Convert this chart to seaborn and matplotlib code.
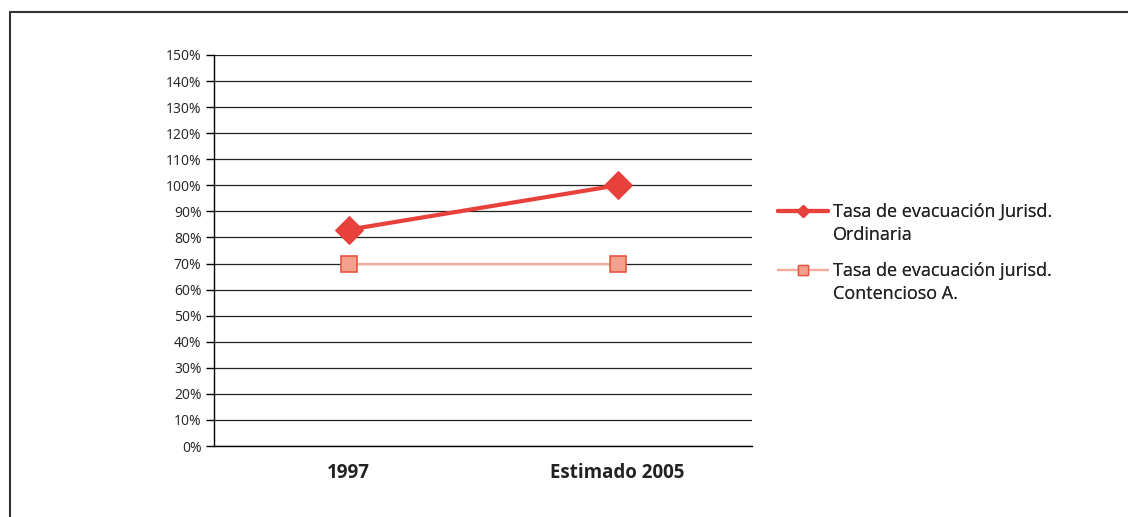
import pandas as pd
import matplotlib.pyplot as plt
import seaborn as sns
from matplotlib.lines import Line2D

sns.set_style("white")
plt.rcParams['font.family'] = ['Open Sans', 'DejaVu Sans']

# data
categories = ["1997", "Estimado 2005"]
ordinaria = [83, 100]
contencioso = [70, 70]
series_names = ["Tasa de evacuación Jurisd. Ordinaria",
                "Tasa de evacuación jurisd. Contencioso A."]
legend_lines = [["Tasa de evacuación Jurisd.", "Ordinaria"],
                ["Tasa de evacuación jurisd.", "Contencioso A."]]
y_ticks = list(range(0, 151, 10))

df = pd.DataFrame({
    "x": list(range(len(categories))) * 2,
    "valor": ordinaria + contencioso,
    "serie": [series_names[0]] * 2 + [series_names[1]] * 2,
})

fig = plt.figure(figsize=(11.28, 5.17), dpi=100)
ax = fig.add_axes([214 / 1128, 1 - 446 / 517, (752 - 214) / 1128, (446 - 55) / 517])

c1 = "#e8403a"
c2_line = "#f4ad9d"
c2_face = "#f5a08c"
c2_edge = "#e95545"

d1 = df[df["serie"] == series_names[0]]
d2 = df[df["serie"] == series_names[1]]
sns.lineplot(data=d2, x="x", y="valor", ax=ax, color=c2_line, linewidth=1.6,
             marker="s", markersize=12, markerfacecolor=c2_face,
             markeredgecolor=c2_edge, markeredgewidth=1.2, zorder=3)
sns.lineplot(data=d1, x="x", y="valor", ax=ax, color=c1, linewidth=3,
             marker="D", markersize=14, markeredgecolor=c1, zorder=4)

ax.set_xlim(-0.5, 1.5)
ax.set_ylim(0, 150)
ax.set_yticks(y_ticks)
ax.set_yticklabels([f"{v}%" for v in y_ticks], fontsize=10, color="#222222")
ax.set_xticks(range(len(categories)))
ax.set_xticklabels(categories, fontsize=13.5, fontweight="bold", color="#222222")
ax.set_xticks([-0.5, 0.5, 1.5], minor=True)
ax.tick_params(axis="x", which="major", length=0, pad=12)
ax.tick_params(axis="x", which="minor", length=5, width=1, color="black", direction="out")
ax.tick_params(axis="y", length=6, width=1, color="black", direction="out", left=True, pad=3)
ax.set_xlabel("")
ax.set_ylabel("")

ax.yaxis.grid(True, color="#222222", linewidth=0.9)
ax.set_axisbelow(True)
for s in ["top", "right"]:
    ax.spines[s].set_visible(False)
for s in ["left", "bottom"]:
    ax.spines[s].set_color("black")
    ax.spines[s].set_linewidth(1)

if ax.get_legend() is not None:
    ax.get_legend().remove()

handles = [
    Line2D([], [], color=c1, linewidth=3, marker="D", markersize=6, markeredgecolor=c1),
    Line2D([], [], color=c2_line, linewidth=1.6, marker="s", markersize=7,
           markerfacecolor=c2_face, markeredgecolor=c2_edge),
]
blank = Line2D([], [], linestyle="none")
tops = [203, 262]
for h, lines, top in zip(handles, legend_lines, tops):
    leg = fig.legend([h, blank], lines, loc="upper left",
                     bbox_to_anchor=(778 / 1128, 1 - top / 517),
                     frameon=False, fontsize=13, handlelength=2.75, handletextpad=0.28,
                     labelspacing=0.3, borderaxespad=0, borderpad=0)
    for t in leg.get_texts():
        t.set_color("#222222")
    fig.add_artist(leg)

# outer frame lines (top and left)
fig.add_artist(Line2D([10 / 1128, 1], [1 - 12 / 517, 1 - 12 / 517], color="#333333", linewidth=1.5))
fig.add_artist(Line2D([10 / 1128, 10 / 1128], [0, 1 - 12 / 517], color="#333333", linewidth=1.5))

fig.savefig("out.png", dpi=100, facecolor="white")
